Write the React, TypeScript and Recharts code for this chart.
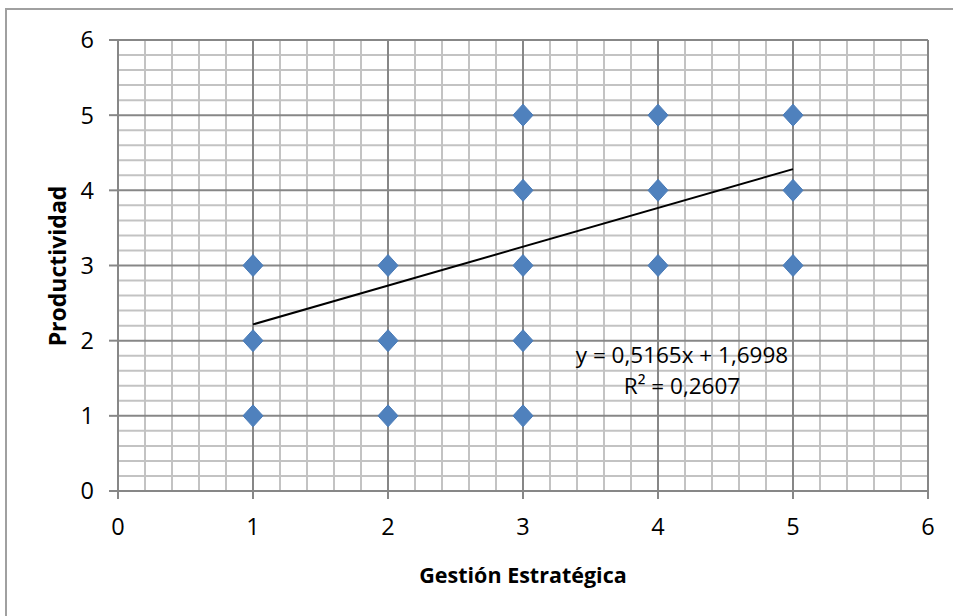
import React from "react";
import {
  ScatterChart,
  Scatter,
  XAxis,
  YAxis,
  ReferenceLine,
} from "recharts";

// puntos observados (Gestión Estratégica, Productividad)
const gestion = [1, 1, 1, 2, 2, 2, 3, 3, 3, 3, 3, 4, 4, 4, 5, 5, 5];
const productividad = [1, 2, 3, 1, 2, 3, 1, 2, 3, 4, 5, 3, 4, 5, 3, 4, 5];

// recta de tendencia
const slope = 0.5165;
const intercept = 1.6998;
const r2Label = "R² = 0,2607";
const eqLabel = "y = 0,5165x + 1,6998";
const trendX = [1, 5];

const axisTicks = [0, 1, 2, 3, 4, 5, 6];

const points = gestion.map((x, i) => ({ x, y: productividad[i] }));
const trend = trendX.map((x) => ({ x, y: slope * x + intercept }));

const minorSteps: number[] = [];
for (let i = 1; i < 30; i++) {
  if (i % 5 !== 0) minorSteps.push(i / 5);
}
const majorSteps = axisTicks.filter((t) => t > 0);

const FONT = "'Open Sans', 'Noto Sans', sans-serif";
const MAJOR = "#878787";
const MINOR = "#c3c3c3";

const Diamond = (props: any) => {
  const { cx, cy } = props;
  if (cx == null || cy == null) return <g />;
  const w = 10;
  const h = 11;
  return (
    <polygon
      points={`${cx},${cy - h} ${cx + w},${cy} ${cx},${cy + h} ${cx - w},${cy}`}
      fill="#4F81BD"
      stroke="#4A7CB8"
      strokeWidth={1}
    />
  );
};

const NoShape = () => <g />;

export default function App() {
  return (
    <div
      style={{
        position: "absolute",
        left: 0,
        top: 0,
        width: 953,
        height: 616,
        overflow: "hidden",
        background: "#fff",
        fontFamily: FONT,
      }}
    >
      <div
        style={{
          position: "absolute",
          left: 5,
          top: 8,
          width: 960,
          height: 640,
          border: "2px solid #a0a0a0",
          boxSizing: "border-box",
        }}
      />
      <ScatterChart
        width={953}
        height={616}
        margin={{ top: 40, right: 25, bottom: 75, left: 68 }}
        style={{ position: "absolute", left: 0, top: 0 }}
      >
        <XAxis
          type="number"
          dataKey="x"
          domain={[0, 6]}
          ticks={axisTicks}
          height={50}
          allowDataOverflow
          stroke={MAJOR}
          strokeWidth={2}
          tickSize={8}
          tickMargin={19}
          tick={{ fill: "#000", fontSize: 23.5, fontFamily: FONT }}
        />
        <YAxis
          type="number"
          dataKey="y"
          domain={[0, 6]}
          ticks={axisTicks}
          width={50}
          allowDataOverflow
          stroke={MAJOR}
          strokeWidth={2}
          tickSize={9}
          tickMargin={15}
          tick={{ fill: "#000", fontSize: 23.5, fontFamily: FONT }}
        />
        {minorSteps.map((v) => (
          <ReferenceLine key={`mx${v}`} x={v} stroke={MINOR} strokeWidth={2} />
        ))}
        {minorSteps.map((v) => (
          <ReferenceLine key={`my${v}`} y={v} stroke={MINOR} strokeWidth={2} />
        ))}
        {majorSteps.map((v) => (
          <ReferenceLine key={`Mx${v}`} x={v} stroke={MAJOR} strokeWidth={2} />
        ))}
        {majorSteps.map((v) => (
          <ReferenceLine key={`My${v}`} y={v} stroke={MAJOR} strokeWidth={2} />
        ))}
        <Scatter
          data={trend}
          line={{ stroke: "#000", strokeWidth: 2 }}
          shape={NoShape}
          isAnimationActive={false}
        />
        <Scatter data={points} shape={Diamond} isAnimationActive={false} />
      </ScatterChart>
      <div
        style={{
          position: "absolute",
          left: 0,
          width: 1046,
          top: 560,
          textAlign: "center",
          fontWeight: 700,
          fontSize: 21.5,
        }}
      >
        Gestión Estratégica
      </div>
      <div
        style={{
          position: "absolute",
          left: 57,
          top: 266,
          transform: "translate(-50%, -50%) rotate(-90deg)",
          fontWeight: 700,
          fontSize: 23,
          whiteSpace: "nowrap",
        }}
      >
        Productividad
      </div>
      <div
        style={{
          position: "absolute",
          left: 582,
          width: 200,
          top: 339,
          textAlign: "center",
          fontSize: 22.5,
          lineHeight: "31px",
          whiteSpace: "nowrap",
        }}
      >
        <div style={{ marginLeft: -20, marginRight: -20 }}>{eqLabel}</div>
        <div>{r2Label}</div>
      </div>
    </div>
  );
}
